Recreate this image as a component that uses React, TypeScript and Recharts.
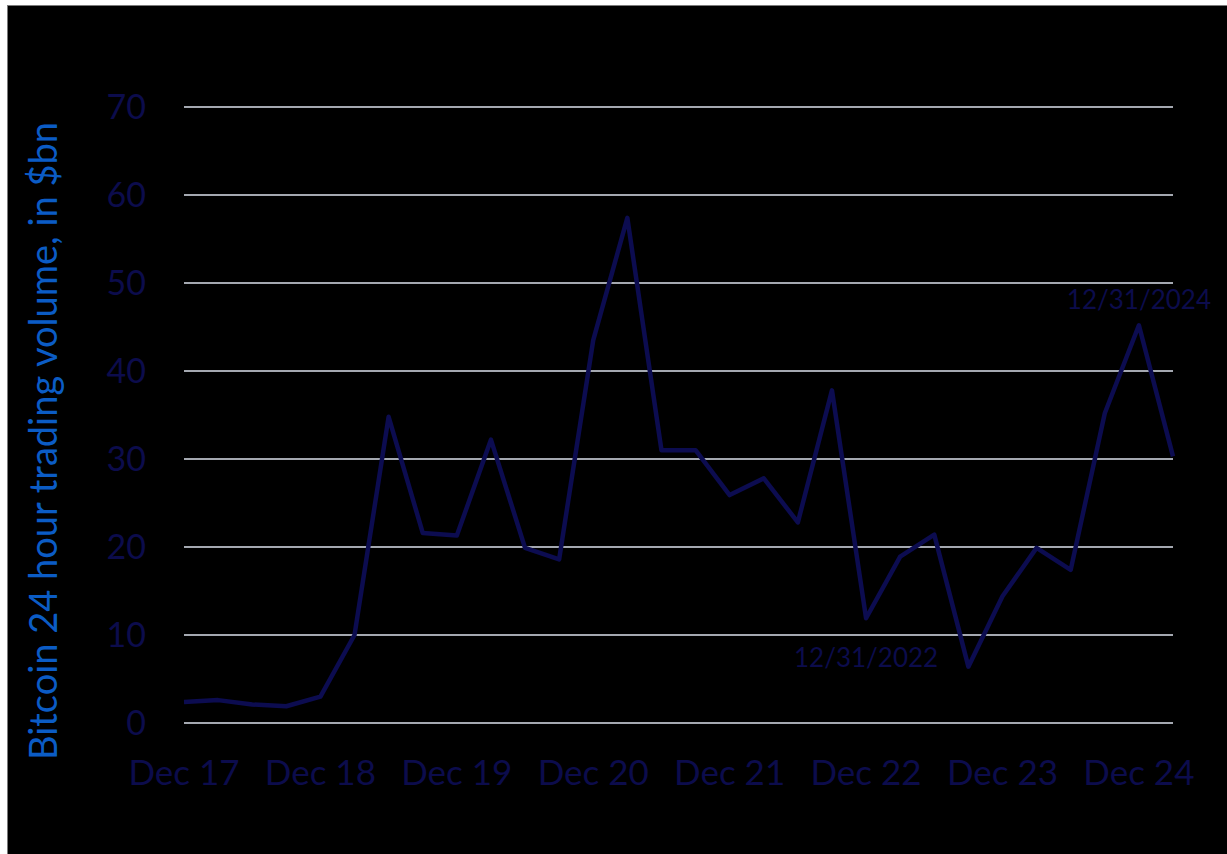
import { LineChart, Line, XAxis, YAxis, CartesianGrid, LabelList } from 'recharts'

// quarterly points, Dec 2017 .. Mar 2025
const quarters = [
  'Dec 17', 'Mar 18', 'Jun 18', 'Sep 18',
  'Dec 18', 'Mar 19', 'Jun 19', 'Sep 19',
  'Dec 19', 'Mar 20', 'Jun 20', 'Sep 20',
  'Dec 20', 'Mar 21', 'Jun 21', 'Sep 21',
  'Dec 21', 'Mar 22', 'Jun 22', 'Sep 22',
  'Dec 22', 'Mar 23', 'Jun 23', 'Sep 23',
  'Dec 23', 'Mar 24', 'Jun 24', 'Sep 24',
  'Dec 24', 'Mar 25',
]

const volumes = [
  2.4, 2.6, 2.1, 1.9,
  3.0, 10.0, 34.8, 21.6,
  21.3, 32.2, 19.9, 18.6,
  43.5, 57.4, 31.0, 31.0,
  25.9, 27.8, 22.8, 37.8,
  11.9, 18.9, 21.4, 6.4,
  14.4, 19.9, 17.4, 35.2,
  45.2, 30.3,
]

const yTicks = [0, 10, 20, 30, 40, 50, 60, 70]

const noteQuarters = ['Dec 22', 'Dec 24']
const noteTexts = ['12/31/2022', '12/31/2024']

const chartData = quarters.map((quarter, i) => {
  const n = noteQuarters.indexOf(quarter)
  return { quarter, volume: volumes[i], note: n >= 0 ? noteTexts[n] : '' }
})

const FONT = 'Lato, "Open Sans", sans-serif'
const TICK_COLOR = '#0c0c4c'
const LINE_COLOR = '#0c0c50'
const GRID_COLOR = '#a4a8b0'

// first note sits under its trough, second above its peak
const NOTE_DY = [39, -26]

const renderNote = (props: any) => {
  const { x, y, value } = props
  if (!value) return null
  const n = noteTexts.indexOf(value)
  return (
    <text
      x={x}
      y={y + NOTE_DY[n]}
      textAnchor="middle"
      dominantBaseline="central"
      fill={TICK_COLOR}
      fontSize={26}
      fontFamily={FONT}
    >
      {value}
    </text>
  )
}

const renderYLabel = () => (
  <text
    x={34}
    y={435}
    transform="rotate(-90 34 435)"
    textAnchor="middle"
    dominantBaseline="central"
    fill="#0b5cc5"
    fontSize={38}
    fontFamily={FONT}
  >
    Bitcoin 24 hour trading volume, in $bn
  </text>
)

export default function App() {
  return (
    <div
      style={{
        position: 'absolute',
        left: 7,
        top: 5,
        width: 1220,
        height: 849,
        background: '#000',
        borderLeft: '1px solid #7a7a7a',
        borderTop: '1px solid #7a7a7a',
        boxSizing: 'border-box',
      }}
    >
      <LineChart
        width={1219}
        height={848}
        data={chartData}
        margin={{ top: 101, right: 54, bottom: 0, left: 0 }}
      >
        <CartesianGrid horizontal vertical={false} stroke={GRID_COLOR} strokeWidth={2} />
        <XAxis
          dataKey="quarter"
          interval={3}
          height={131}
          axisLine={false}
          tickLine={false}
          tickSize={0}
          tickMargin={37}
          tick={{ fill: TICK_COLOR, fontSize: 35, fontFamily: FONT }}
        />
        <YAxis
          domain={[0, 70]}
          ticks={yTicks}
          width={176}
          axisLine={false}
          tickLine={false}
          tickSize={0}
          tickMargin={38}
          tick={{ fill: TICK_COLOR, fontSize: 34, fontFamily: FONT }}
          label={{ content: renderYLabel }}
        />
        <Line
          type="linear"
          dataKey="volume"
          stroke={LINE_COLOR}
          strokeWidth={4.5}
          strokeLinejoin="round"
          dot={false}
          activeDot={false}
          isAnimationActive={false}
        >
          <LabelList dataKey="note" content={renderNote} />
        </Line>
      </LineChart>
    </div>
  )
}
